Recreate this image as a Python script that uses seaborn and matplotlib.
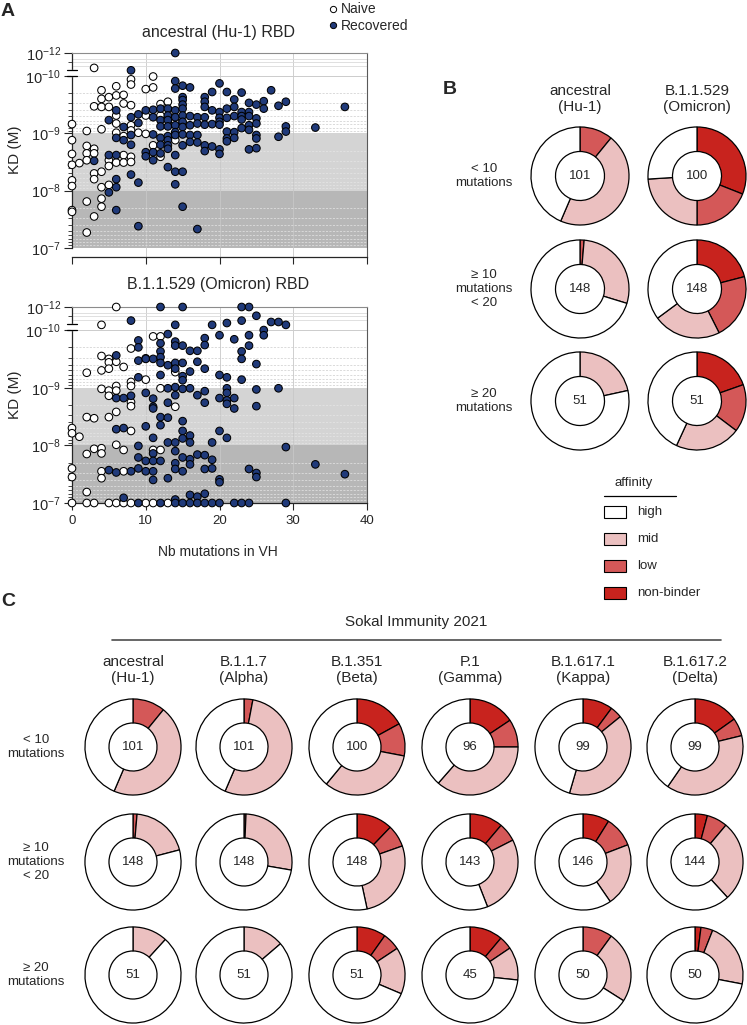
import numpy as np
import pandas as pd
import matplotlib
matplotlib.use("Agg")
import matplotlib.pyplot as plt
import matplotlib.transforms as mtransforms
from matplotlib.lines import Line2D
from matplotlib.patches import Rectangle
from matplotlib.ticker import FixedLocator, NullFormatter
import seaborn as sns

sns.set_theme(style="ticks")
plt.rcParams["font.family"] = ["Liberation Sans", "DejaVu Sans"]
plt.rcParams["mathtext.fontset"] = "custom"
plt.rcParams["mathtext.rm"] = "Liberation Sans"
plt.rcParams["mathtext.it"] = "Liberation Sans:italic"
plt.rcParams["mathtext.bf"] = "Liberation Sans:bold"

# ---- panel A data: (Nb mutations in VH, -log10 KD) ----
naive_hu1 = [
    (0, 9.16), (0, 8.88), (0, 8.64), (0, 8.45), (0, 8.18), (0, 8.08), (0, 7.66), (0, 7.63),
    (1, 8.48),
    (2, 9.04), (2, 8.78), (2, 8.65), (2, 8.53), (2, 7.81), (2, 7.27),
    (3, 10.70), (3, 9.47), (3, 8.73), (3, 8.65), (3, 8.30), (3, 8.20), (3, 7.55),
    (4, 9.75), (4, 9.60), (4, 9.46), (4, 9.07), (4, 8.33), (4, 8.06), (4, 7.86), (4, 7.72),
    (5, 9.63), (5, 9.46), (5, 8.53), (5, 8.43), (5, 8.10),
    (6, 9.82), (6, 9.66), (6, 9.31), (6, 9.17), (6, 9.01), (6, 8.49),
    (7, 9.67), (7, 9.52), (7, 8.95), (7, 8.62), (7, 8.49),
    (8, 9.94), (8, 9.85), (8, 9.49), (8, 9.14), (8, 9.05), (8, 8.59), (8, 8.50),
    (9, 9.01), (10, 9.77), (10, 9.31), (10, 8.99), (11, 9.99), (11, 9.80), (11, 8.79),
    (12, 9.51), (12, 9.31), (12, 8.59), (13, 9.55), (14, 9.20), (14, 8.88),
]
recovered_hu1 = [
    (3, 8.52), (5, 9.23), (5, 8.62), (5, 7.97),
    (6, 9.40), (6, 8.92), (6, 8.62), (6, 8.20), (6, 8.06), (6, 7.66),
    (7, 9.11), (7, 8.88), (8, 10.49), (8, 9.28), (8, 8.97), (8, 8.80), (8, 8.28),
    (9, 9.33), (9, 9.18), (9, 8.14), (9, 7.38), (10, 9.40), (10, 8.67), (10, 8.60),
    (11, 9.41), (11, 9.28), (11, 8.98), (11, 8.67), (11, 8.53),
    (12, 9.43), (12, 9.23), (12, 9.12), (12, 8.92), (12, 8.80), (12, 8.65),
    (13, 9.43), (13, 9.31), (13, 9.23), (13, 9.12), (13, 8.95), (13, 8.88), (13, 8.79), (13, 8.73), (13, 8.41),
    (14, 12.0), (14, 9.91), (14, 9.78), (14, 9.40), (14, 9.28), (14, 9.14), (14, 9.02), (14, 8.97),
    (14, 8.62), (14, 8.33), (14, 8.11),
    (15, 9.83), (15, 9.63), (15, 9.58), (15, 9.50), (15, 9.43), (15, 9.31), (15, 9.20), (15, 9.11),
    (15, 8.98), (15, 8.79), (15, 8.33), (15, 7.72),
    (16, 9.80), (16, 9.30), (16, 9.14), (16, 8.97), (16, 8.85),
    (17, 9.28), (17, 9.17), (17, 8.97), (17, 8.84), (17, 7.33),
    (18, 9.63), (18, 9.55), (18, 9.46), (18, 9.28), (18, 9.15), (18, 8.79), (18, 8.69),
    (19, 9.72), (19, 9.40), (19, 9.16), (19, 8.77),
    (20, 9.87), (20, 9.37), (20, 9.27), (20, 9.20), (20, 9.15), (20, 8.72), (20, 8.64),
    (21, 9.72), (21, 9.43), (21, 9.27), (21, 9.03), (21, 8.91), (21, 8.86),
    (22, 9.59), (22, 9.46), (22, 9.30), (22, 9.02), (22, 8.92),
    (23, 9.71), (23, 9.37), (23, 9.30), (23, 9.24), (23, 9.09),
    (24, 9.53), (24, 9.37), (24, 9.30), (24, 9.14), (24, 9.06), (24, 8.72),
    (25, 9.50), (25, 9.26), (25, 9.17), (25, 8.97), (25, 8.91), (25, 8.74),
    (26, 9.56), (26, 9.43), (27, 9.75), (28, 9.48), (28, 8.94),
    (29, 9.55), (29, 9.12), (29, 9.03), (33, 9.10), (37, 9.46),
]
naive_omicron = [
    (0, 8.30), (0, 8.21), (0, 7.60), (0, 7.45), (0, 7.0), (1, 8.15),
    (2, 9.26), (2, 8.49), (2, 7.85), (2, 7.19), (2, 7.0),
    (3, 8.47), (3, 7.94), (3, 7.0),
    (4, 10.45), (4, 9.55), (4, 9.30), (4, 8.98), (4, 7.95), (4, 7.86), (4, 7.55), (4, 7.43),
    (5, 9.50), (5, 9.44), (5, 9.33), (5, 8.95), (5, 8.86), (5, 8.49), (5, 7.0),
    (6, 12.0), (6, 9.45), (6, 9.03), (6, 8.95), (6, 8.58), (6, 8.01), (6, 7.0),
    (7, 9.36), (7, 7.92), (7, 7.55), (7, 7.0),
    (8, 9.68), (8, 9.10), (8, 9.03), (8, 8.75), (8, 8.68), (8, 8.25), (8, 7.0),
    (10, 9.51), (10, 9.14), (10, 7.0), (11, 9.89), (11, 7.92), (11, 7.0),
    (12, 9.89), (12, 8.99), (12, 7.92), (13, 7.0), (14, 9.27), (14, 8.67),
]
recovered_omicron = [
    (5, 7.57), (6, 9.56), (6, 8.82), (6, 8.28), (6, 7.53),
    (7, 8.82), (7, 8.30), (7, 7.09), (8, 10.82), (8, 8.86), (8, 7.55),
    (9, 9.82), (9, 9.70), (9, 9.47), (9, 9.18), (9, 7.99), (9, 7.79), (9, 7.60), (9, 7.0),
    (10, 9.50), (10, 8.91), (10, 8.33), (10, 7.73), (10, 7.55),
    (11, 9.50), (11, 8.81), (11, 8.67), (11, 8.64), (11, 8.13), (11, 7.86), (11, 7.73), (11, 7.55), (11, 7.40),
    (12, 12.0), (12, 9.77), (12, 9.63), (12, 9.53), (12, 9.43), (12, 9.22), (12, 8.49), (12, 8.35),
    (12, 7.73), (12, 7.0),
    (13, 9.93), (13, 9.39), (13, 8.99), (13, 8.74), (13, 8.48), (13, 8.05), (13, 7.43),
    (14, 10.45), (14, 9.80), (14, 9.73), (14, 9.43), (14, 9.33), (14, 9.01), (14, 8.87), (14, 8.05),
    (14, 7.90), (14, 7.69), (14, 7.59), (14, 7.06), (14, 7.0),
    (15, 12.0), (15, 9.73), (15, 9.43), (15, 9.20), (15, 9.13), (15, 8.98), (15, 8.42), (15, 8.25),
    (15, 8.12), (15, 7.79), (15, 7.55), (15, 7.0),
    (16, 9.64), (16, 9.28), (16, 8.99), (16, 8.17), (16, 8.05), (16, 7.76), (16, 7.67), (16, 7.14), (16, 7.0),
    (17, 9.64), (17, 9.45), (17, 8.87), (17, 7.84), (17, 7.11), (17, 7.0),
    (18, 9.86), (18, 9.74), (18, 9.33), (18, 8.94), (18, 8.74), (18, 7.83), (18, 7.59), (18, 7.16), (18, 7.0),
    (19, 10.45), (19, 8.05), (19, 7.75), (19, 7.60), (19, 7.0),
    (20, 9.91), (20, 9.22), (20, 8.82), (20, 8.25), (20, 7.41), (20, 7.36), (20, 7.0),
    (21, 10.61), (21, 9.18), (21, 8.99), (21, 8.91), (21, 8.78), (21, 8.72), (21, 8.13),
    (22, 9.84), (22, 8.82), (22, 8.64), (22, 7.0),
    (23, 12.0), (23, 10.82), (23, 9.63), (23, 9.50), (23, 9.14), (23, 7.0),
    (24, 12.0), (24, 9.91), (24, 9.73), (24, 7.59), (24, 7.0),
    (25, 11.24), (25, 9.41), (25, 8.97), (25, 8.68), (25, 7.52), (25, 7.45),
    (26, 10.0), (26, 9.91), (27, 10.70), (28, 10.70), (28, 8.99),
    (29, 10.45), (29, 7.97), (29, 7.0), (33, 7.67), (37, 7.50),
]

# ---- panels B and C data: counts per affinity class (non-binder, low, mid, high) ----
affinity = ["non-binder", "low", "mid", "high"]
mutation_groups = ["< 10\nmutations", "\u2265 10\nmutations\n< 20", "\u2265 20\nmutations"]

b_variants = ["ancestral\n(Hu-1)", "B.1.1.529\n(Omicron)"]
b_ancestral = [[0, 11, 46, 44], [0, 2, 42, 104], [0, 0, 11, 40]]
b_omicron = [[31, 19, 24, 26], [31, 32, 33, 52], [10, 8, 11, 22]]

c_variants = ["ancestral\n(Hu-1)", "B.1.1.7\n(Alpha)", "B.1.351\n(Beta)",
              "P.1\n(Gamma)", "B.1.617.1\n(Kappa)", "B.1.617.2\n(Delta)"]
c_ancestral = [[0, 11, 46, 44], [0, 2, 29, 117], [0, 0, 6, 45]]
c_alpha = [[0, 3, 54, 44], [0, 1, 40, 107], [0, 0, 7, 44]]
c_beta = [[17, 11, 33, 39], [18, 11, 40, 79], [5, 3, 8, 35]]
c_gamma = [[15, 9, 35, 37], [16, 9, 38, 80], [5, 2, 5, 33]]
c_kappa = [[10, 4, 40, 45], [13, 15, 31, 87], [0, 5, 12, 33]]
c_delta = [[15, 6, 38, 40], [6, 10, 39, 89], [1, 2, 11, 36]]

AFF_COLORS = {"non-binder": "#c8231e", "low": "#d45858", "mid": "#ebc0c0", "high": "white"}
NAVY = "#203a7a"

W, H = 747, 1025
fig = plt.figure(figsize=(W / 100, H / 100), dpi=100)


def fx(x):
    return x / W


def fy(y):
    return 1 - y / H


def fwd(p):
    p = np.asarray(p, float)
    return np.where(p > 10, 10 + (p - 10) * 0.2, p)


def inv(t):
    t = np.asarray(t, float)
    return np.where(t > 10, 10 + (t - 10) / 0.2, t)


def kd_panel(top, bottom, ymin, naive, recovered, show_xlabels):
    ax = fig.add_axes([fx(72), fy(bottom), 295 / W, (bottom - top) / H])
    df = pd.concat([
        pd.DataFrame(naive, columns=["mut", "pkd"]).assign(group="Naive"),
        pd.DataFrame(recovered, columns=["mut", "pkd"]).assign(group="Recovered"),
    ])
    ax.set_yscale("function", functions=(fwd, inv))
    ax.axhspan(8, 9, color="#d4d4d4", lw=0, zorder=0)
    ax.axhspan(7, 8, color="#b7b7b7", lw=0, zorder=0)
    for m in (10, 20, 30):
        ax.axvline(m, color="0.78", lw=0.6, zorder=1)
    minors = [n + 1 - np.log10(k) for n in (7, 8, 9) for k in range(2, 10)]
    for p in minors:
        ax.axhline(p, color="0.8" if p > 9 else "0.9", lw=0.5, ls=(0, (3, 2)), zorder=1)
    for p in (10.85, 11.2, 11.5):
        ax.axhline(p, color="0.86", lw=0.6, zorder=1)
    ax.axhline(10, color="0.8", lw=0.7, zorder=1)

    sns.scatterplot(data=df, x="mut", y="pkd", hue="group",
                    palette={"Naive": "white", "Recovered": NAVY},
                    edgecolor="black", linewidth=0.75, s=30, legend=False, ax=ax, zorder=3)
    for c in ax.collections:
        c.set_clip_on(False)

    ax.set_xlim(0, 40)
    ax.set_ylim(ymin, 12)
    ax.set_xlabel("")
    ax.set_ylabel("")
    ax.set_xticks([0, 10, 20, 30, 40])
    ax.yaxis.set_major_locator(FixedLocator([7, 8, 9, 10, 12]))
    ax.set_yticklabels([r"10$^{\mathregular{-7}}$", r"10$^{\mathregular{-8}}$",
                        r"10$^{\mathregular{-9}}$", r"10$^{\mathregular{-10}}$",
                        r"10$^{\mathregular{-12}}$"])
    ax.yaxis.set_minor_locator(FixedLocator(minors + [11.2]))
    ax.yaxis.set_minor_formatter(NullFormatter())
    ax.tick_params(axis="y", which="major", length=6, width=0.8, labelsize=10.5, pad=2, left=True)
    ax.tick_params(axis="y", which="minor", length=3, width=0.6, left=True)
    ax.tick_params(axis="x", which="major", length=5, width=0.8, labelsize=9.5,
                   bottom=True, labelbottom=show_xlabels)
    ax.spines["left"].set_bounds(7, 12)
    ax.spines["left"].set_linewidth(0.9)
    ax.spines["bottom"].set_linewidth(0.9)
    ax.spines["right"].set_visible(True)
    ax.spines["right"].set_color("0.35")
    ax.spines["right"].set_linewidth(0.8)
    ax.spines["top"].set_visible(True)
    ax.spines["top"].set_color("0.55")
    ax.spines["top"].set_linewidth(0.8)
    # axis break between 10^-10 and 10^-12
    tr = mtransforms.blended_transform_factory(ax.transAxes, ax.transData)
    ax.plot([0, 0], [10.06, 10.44], color="white", lw=2.5, transform=tr, clip_on=False, zorder=5)
    for p in (10.0, 10.5):
        ax.plot([-0.016, 0.016], [p, p], color="black", lw=0.9, transform=tr, clip_on=False, zorder=6)
    return ax


kd_panel(53, 257, 6.843, naive_hu1, recovered_hu1, False)
kd_panel(307, 503, 7.0, naive_omicron, recovered_omicron, True)

fig.text(fx(1), fy(12), "A", fontsize=14, fontweight="bold", va="center", ha="left")
fig.text(fx(218), fy(33), "ancestral (Hu-1) RBD", fontsize=11.5, ha="center", va="center")
fig.text(fx(218), fy(285), "B.1.1.529 (Omicron) RBD", fontsize=11.5, ha="center", va="center")
fig.text(fx(15), fy(150), "KD (M)", fontsize=11, rotation=90, ha="center", va="center")
fig.text(fx(15), fy(395), "KD (M)", fontsize=11, rotation=90, ha="center", va="center")
fig.text(fx(218), fy(552), "Nb mutations in VH", fontsize=10, ha="center", va="center")

handles = [
    Line2D([], [], marker="o", ls="", mfc="white", mec="black", ms=4.5, mew=0.7, label="Naive"),
    Line2D([], [], marker="o", ls="", mfc=NAVY, mec="black", ms=4.5, mew=0.7, label="Recovered"),
]
fig.legend(handles=handles, loc="upper left", bbox_to_anchor=(fx(327), fy(1)), frameon=False,
           fontsize=10, handlelength=0.6, handletextpad=0.3, labelspacing=0.2,
           borderaxespad=0, borderpad=0.1)


def donut(cx, cy, counts, r=48):
    ax = fig.add_axes([fx(cx - r - 1), fy(cy + r + 1), (2 * r + 2) / W, (2 * r + 2) / H])
    vals = [c for c in counts if c > 0]
    cols = [AFF_COLORS[a] for a, c in zip(affinity, counts) if c > 0]
    ax.pie(vals, colors=cols, startangle=90, counterclock=False, radius=1,
           wedgeprops=dict(width=0.5, edgecolor="black", linewidth=0.9))
    ax.set_xlim(-1.02, 1.02)
    ax.set_ylim(-1.02, 1.02)
    ax.text(0, 0, str(sum(counts)), ha="center", va="center", fontsize=9.5)
    ax.set_axis_off()


# ---- panel B ----
fig.text(fx(443), fy(90), "B", fontsize=14, fontweight="bold", va="center", ha="left")
b_cols = [580, 697]
b_rows = [176, 289, 401]
for x, name in zip(b_cols, b_variants):
    fig.text(fx(x), fy(99), name, fontsize=11, ha="center", va="center", linespacing=1.2)
for y, lab in zip(b_rows, mutation_groups):
    fig.text(fx(484), fy(y), lab, fontsize=9.5, ha="center", va="center", linespacing=1.2)
for x, data in zip(b_cols, [b_ancestral, b_omicron]):
    for y, counts in zip(b_rows, data):
        donut(x, y, counts, r=49)

fig.text(fx(634), fy(483), "affinity", fontsize=9.5, ha="center", va="center")
fig.add_artist(Line2D([fx(604), fx(676)], [fy(496), fy(496)], color="black", lw=0.9))
for i, a in enumerate(["high", "mid", "low", "non-binder"]):
    yc = 512 + 27 * i
    fig.add_artist(Rectangle((fx(604), fy(yc + 6)), 22 / W, 12 / H, transform=fig.transFigure,
                             facecolor=AFF_COLORS[a], edgecolor="black", lw=0.8))
    fig.text(fx(637), fy(yc), a, fontsize=9.5, ha="left", va="center")

# ---- panel C ----
fig.text(fx(1), fy(602), "C", fontsize=14, fontweight="bold", va="center", ha="left")
fig.text(fx(416), fy(622), "Sokal Immunity 2021", fontsize=11, ha="center", va="center")
fig.add_artist(Line2D([fx(112), fx(721)], [fy(640), fy(640)], color="0.3", lw=1.2))
c_cols = [133, 244, 357, 470, 583, 695]
c_rows = [747, 862, 975]
for x, name in zip(c_cols, c_variants):
    fig.text(fx(x), fy(670), name, fontsize=11, ha="center", va="center", linespacing=1.15)
for y, lab in zip(c_rows, mutation_groups):
    fig.text(fx(36), fy(y), lab, fontsize=9.5, ha="center", va="center", linespacing=1.2)
for x, data in zip(c_cols, [c_ancestral, c_alpha, c_beta, c_gamma, c_kappa, c_delta]):
    for y, counts in zip(c_rows, data):
        donut(x, y, counts, r=48)

fig.savefig("out.png", dpi=100)
